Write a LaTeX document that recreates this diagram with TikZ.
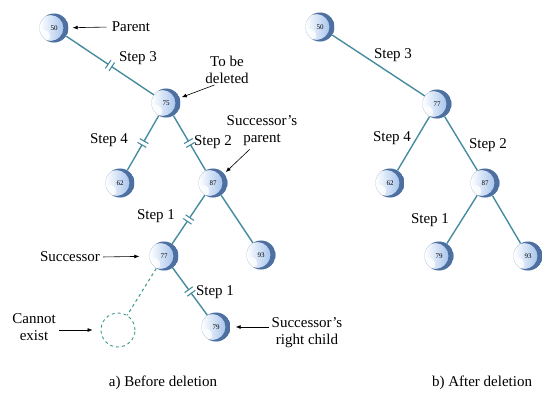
\documentclass[tikz,border=0pt]{standalone}
\usepackage{fontspec}
\setmainfont{Liberation Serif}
\usepackage{tikz}
\usetikzlibrary{arrows.meta,positioning,calc,decorations.markings}
\usepackage{xcolor}
\definecolor{edgecol}{RGB}{70,140,158}
\definecolor{nodemid}{RGB}{150,185,232}
\definecolor{nodedark}{RGB}{78,112,160}
\definecolor{dashcol}{RGB}{60,150,140}

\tikzset{
  bst/.style={circle,minimum size=29pt,inner sep=0pt,
    font=\fontsize{7}{8}\selectfont,left color=white,right color=nodemid,
    path picture={
      \fill[white,opacity=0.8] ([shift={(-10pt,-8pt)}]path picture bounding box.center) circle (6pt);
      \fill[nodedark,even odd rule] (path picture bounding box.center) circle (14.5pt)
        ([xshift=-3.5pt]path picture bounding box.center) circle (13pt);}},
  gonebox/.style={circle,minimum size=34pt,inner sep=0pt,draw=dashcol,dashed,line width=0.9pt},
  link/.style={draw=edgecol,line width=1.4pt},
  cut/.style={postaction={decorate},decoration={markings,
    mark=at position 0.5 with {
      \fill[white] (-1.8pt,-1.5pt) rectangle (1.8pt,1.5pt);
      \draw[edgecol,line width=1.1pt] (-2.2pt,-5pt) -- (-2.2pt,5pt) (2.2pt,-5pt) -- (2.2pt,5pt);}}},
  pointer/.style={-{Latex[length=5pt,width=4pt]},line width=0.6pt},
  lbl/.style={font=\fontsize{15}{17}\selectfont,align=center,inner sep=1pt}
}

\begin{document}
\begin{tikzpicture}[x=1pt,y=-1pt]
  \useasboundingbox (0,0) rectangle (543,394);
  % a) before deletion
  \node[bst] (p50) at (54,28) {50};
  \node[bst] (d75) at (166,103) {75};
  \node[bst] (c62) at (120,183) {62};
  \node[bst] (s87) at (213,183) {87};
  \node[bst] (s77) at (164,256) {77};
  \node[bst] (c93) at (261,255) {93};
  \node[bst] (r79) at (216,327) {79};
  \node[gonebox] (gone) at (118,330) {};
  \draw[link,cut] (p50) -- (d75);
  \draw[link,cut] (d75) -- (c62);
  \draw[link,cut] (d75) -- (s87);
  \draw[link,cut] (s87) -- (s77);
  \draw[link] (s87) -- (c93);
  \draw[link,cut] (s77) -- (r79);
  \draw[draw=dashcol,line width=1pt,dashed] (s77) -- (gone);
  \node[lbl] (lparent) at (131,27) {Parent};
  \node[lbl] (ltbd) at (227,70) {To be\\deleted};
  \node[lbl] (lsp) at (262,131) {Successor's\\parent};
  \node[lbl] (lsucc) at (70,257) {Successor};
  \node[lbl] (lcannot) at (34,327) {Cannot\\exist};
  \node[lbl] (lsrc) at (307,333) {Successor's\\right child};
  \draw[pointer,shorten <=4pt,shorten >=4pt] (lparent.west) -- (p50);
  \draw[pointer,shorten >=2pt] (ltbd.-130) -- (d75.20);
  \draw[pointer,shorten <=3pt,shorten >=2pt] (lsp.-122) -- (s87.40);
  \draw[pointer,shorten <=2pt,shorten >=10pt] (lsucc.east) -- (s77);
  \draw[pointer,shorten <=2pt,shorten >=8pt] (lcannot.east |- gone) -- (gone);
  \draw[pointer,shorten <=2pt,shorten >=5pt] (lsrc.west |- r79) -- (r79);
  \node[lbl] (as3) at (138,58) {Step 3};
  \node[lbl] (as4) at (109,140) {Step 4};
  \node[lbl] (as2) at (213,142) {Step 2};
  \node[lbl] (as1) at (156,216) {Step 1};
  \node[lbl] (as1b) at (215,292) {Step 1};
  \node[lbl] (capa) at (163,383) {a) Before deletion};
  % b) after deletion
  \node[bst] (n50) at (320,27) {50};
  \node[bst] (n77) at (437,104) {77};
  \node[bst] (n62) at (390,183) {62};
  \node[bst] (n87) at (485,183) {87};
  \node[bst] (n79) at (439,256) {79};
  \node[bst] (n93) at (528,256) {93};
  \draw[link] (n50) -- (n77);
  \draw[link] (n77) -- (n62);
  \draw[link] (n77) -- (n87);
  \draw[link] (n87) -- (n79);
  \draw[link] (n87) -- (n93);
  \node[lbl] (bs3) at (393,55) {Step 3};
  \node[lbl] (bs4) at (392,138) {Step 4};
  \node[lbl] (bs2) at (488,145) {Step 2};
  \node[lbl] (bs1) at (430,220) {Step 1};
  \node[lbl] (capb) at (482,383) {b) After deletion};
\end{tikzpicture}
\end{document}
